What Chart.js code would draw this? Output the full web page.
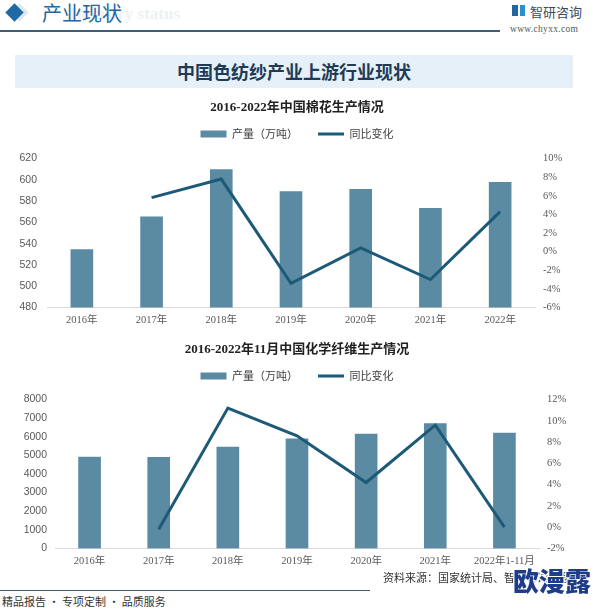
<!DOCTYPE html>
<html>
<head>
<meta charset="utf-8">
<script src="https://cdn.jsdelivr.net/npm/chart.js@4.4.0/dist/chart.umd.min.js"></script>
<style>
  body { margin: 0; width: 594px; height: 610px; background: #fff; position: relative; overflow: hidden;
         font-family: "Noto Sans CJK SC", sans-serif; }
  .abs { position: absolute; white-space: nowrap; }
  .diamond2 { left: 13px; top: 6px; width: 13px; height: 13px; background: #dfe8f0; transform: rotate(45deg); }
  .diamond { left: 8px; top: 6px; width: 13px; height: 13px; background: #1f6aa5; transform: rotate(45deg); }
  .head-en { left: 70px; top: 4px; font: bold 17px "Liberation Serif", serif; color: #edf1f5; }
  .head-title { left: 42px; top: -2px; font-size: 20px; color: #2466a0; line-height: 30px; }
  .head-line { left: 0; top: 30px; width: 500px; height: 1.5px; background: #3d5e78; }
  .logo-a { left: 512px; top: 5px; width: 6px; height: 11px; background: #2466a0; }
  .logo-b { left: 520px; top: 5px; width: 5px; height: 11px; background: #2c8fd0; }
  .logo-text { left: 530px; top: 2px; font-size: 13px; color: #3a4b5c; line-height: 20px; }
  .logo-url { left: 510px; top: 24px; font: 9.5px "Liberation Serif", serif; color: #555; letter-spacing: 0.3px; }
  .banner { left: 15px; top: 55px; width: 558px; height: 33px; background: #e6f0f8;
            text-align: center; font-size: 18px; font-weight: bold; color: #1f3b55; line-height: 33px; }
  .chart { left: 0; width: 594px; }
  .source { left: 383px; top: 569px; font-size: 11px; color: #333; }
  .foot-line { left: 0; top: 590px; width: 370px; height: 1px; background: #3d5e78; }
  .foot-text { left: 2px; top: 593px; font-size: 11px; color: #333; }
  .overlay { left: 513px; top: 562px; font-size: 26px; line-height: 36px; font-weight: 900; color: #1d3c8a;
             text-shadow: -1px -1px 0 #fff, 1px -1px 0 #fff, -1px 1px 0 #fff, 1px 1px 0 #fff; }
</style>
</head>
<body>
<div class="abs head-en">Industry status</div>
<div class="abs diamond2"></div>
<div class="abs diamond"></div>
<div class="abs head-title">产业现状</div>
<div class="abs head-line"></div>
<div class="abs logo-a"></div>
<div class="abs logo-b"></div>
<div class="abs logo-text">智研咨询</div>
<div class="abs logo-url">www.chyxx.com</div>
<div class="abs banner">中国色纺纱产业上游行业现状</div>

<div class="abs chart" style="top:92px;height:246px"><canvas id="graph1" width="594" height="246"></canvas></div>
<div class="abs chart" style="top:334px;height:245px"><canvas id="graph2" width="594" height="245"></canvas></div>

<div class="abs source">资料来源：国家统计局、智研咨询整理</div>
<div class="abs foot-line"></div>
<div class="abs foot-text">精品报告 · 专项定制 · 品质服务</div>
<div class="abs overlay">欧漫露</div>

<script>
// cotton
var cottonYears = ['2016年', '2017年', '2018年', '2019年', '2020年', '2021年', '2022年'];
var cottonOutput = [534.3, 565.3, 609.6, 588.9, 591.0, 573.1, 597.7];
var cottonYoy = [null, 5.8, 7.8, -3.4, 0.4, -3.0, 4.3];

// chemical fiber
var fiberYears = ['2016年', '2017年', '2018年', '2019年', '2020年', '2021年', '2022年1-11月'];
var fiberOutput = [4910, 4900, 5450, 5890, 6150, 6710, 6200];
var fiberYoy = [null, -0.2, 11.2, 8.6, 4.2, 9.6, 0.0];

var barColor = '#5b8ba3';
var lineColor = '#1d5a78';
var tickColor = '#595959';

Chart.defaults.font.family = '"Liberation Serif", "Noto Sans CJK SC", serif';

// extra room under the legend
function legendGap(px) {
  return {
    id: 'legendGap',
    beforeInit: function (chart) {
      var fit = chart.legend.fit;
      chart.legend.fit = function () {
        fit.call(this);
        this.height += px;
      };
    }
  };
}

function makeChart(id, title, labels, output, yoy, left, right, widths) {
  var ctx = document.getElementById(id).getContext('2d');
  return new Chart(ctx, {
    type: 'bar',
    plugins: [legendGap(widths[3])],
    data: {
      labels: labels,
      datasets: [
        {
          label: '产量（万吨）',
          data: output,
          backgroundColor: barColor,
          barThickness: 22,
          pointStyle: 'rect',
          yAxisID: 'y',
          order: 1
        },
        {
          type: 'line',
          label: '同比变化',
          data: yoy,
          borderColor: lineColor,
          backgroundColor: lineColor,
          borderWidth: 3,
          pointRadius: 0,
          pointStyle: 'line',
          tension: 0,
          yAxisID: 'y1',
          order: 0
        }
      ]
    },
    options: {
      responsive: false,
      animation: false,
      layout: { padding: { left: 0, right: 0, top: 0, bottom: 4 } },
      plugins: {
        title: {
          display: true,
          text: title,
          color: '#222',
          font: { size: 13, weight: 'bold' },
          padding: { top: 8, bottom: -7 }
        },
        legend: {
          labels: {
            usePointStyle: true,
            pointStyleWidth: 26,
            boxHeight: 7,
            padding: 20,
            color: '#404040',
            font: { size: 11, family: '"Noto Sans CJK SC", sans-serif' },
            sort: function (a, b) { return a.datasetIndex - b.datasetIndex; }
          }
        },
        tooltip: { enabled: false }
      },
      scales: {
        x: {
          grid: { display: false, drawTicks: false },
          border: { display: true, color: '#d9d9d9' },
          ticks: { color: tickColor, font: { size: 10.5 }, padding: 7, maxRotation: 0 }
        },
        y: {
          position: 'left',
          min: left[0], max: left[1],
          grid: { display: false, drawTicks: false },
          border: { display: false },
          ticks: { stepSize: left[2], color: tickColor, padding: widths[1],
                   font: { size: 10.5, family: '"Liberation Sans", sans-serif' },
                   callback: function (v) { return String(v); } },
          afterFit: function (s) { s.width = widths[0]; }
        },
        y1: {
          position: 'right',
          min: right[0], max: right[1],
          grid: { display: false, drawTicks: false },
          border: { display: false },
          ticks: { stepSize: 2, color: tickColor, padding: 8, font: { size: 10.5 },
                   callback: function (v) { return v + '%'; } },
          afterFit: function (s) { s.width = widths[2]; }
        }
      }
    }
  });
}

makeChart('graph1', '2016-2022年中国棉花生产情况', cottonYears, cottonOutput, cottonYoy,
  [480, 620, 20], [-6, 10], [47, 10, 59, 9]);
makeChart('graph2', '2016-2022年11月中国化学纤维生产情况', fiberYears, fiberOutput, fiberYoy,
  [0, 8000, 1000], [-2, 12], [55, 8, 55, 8]);
</script>
</body>
</html>
